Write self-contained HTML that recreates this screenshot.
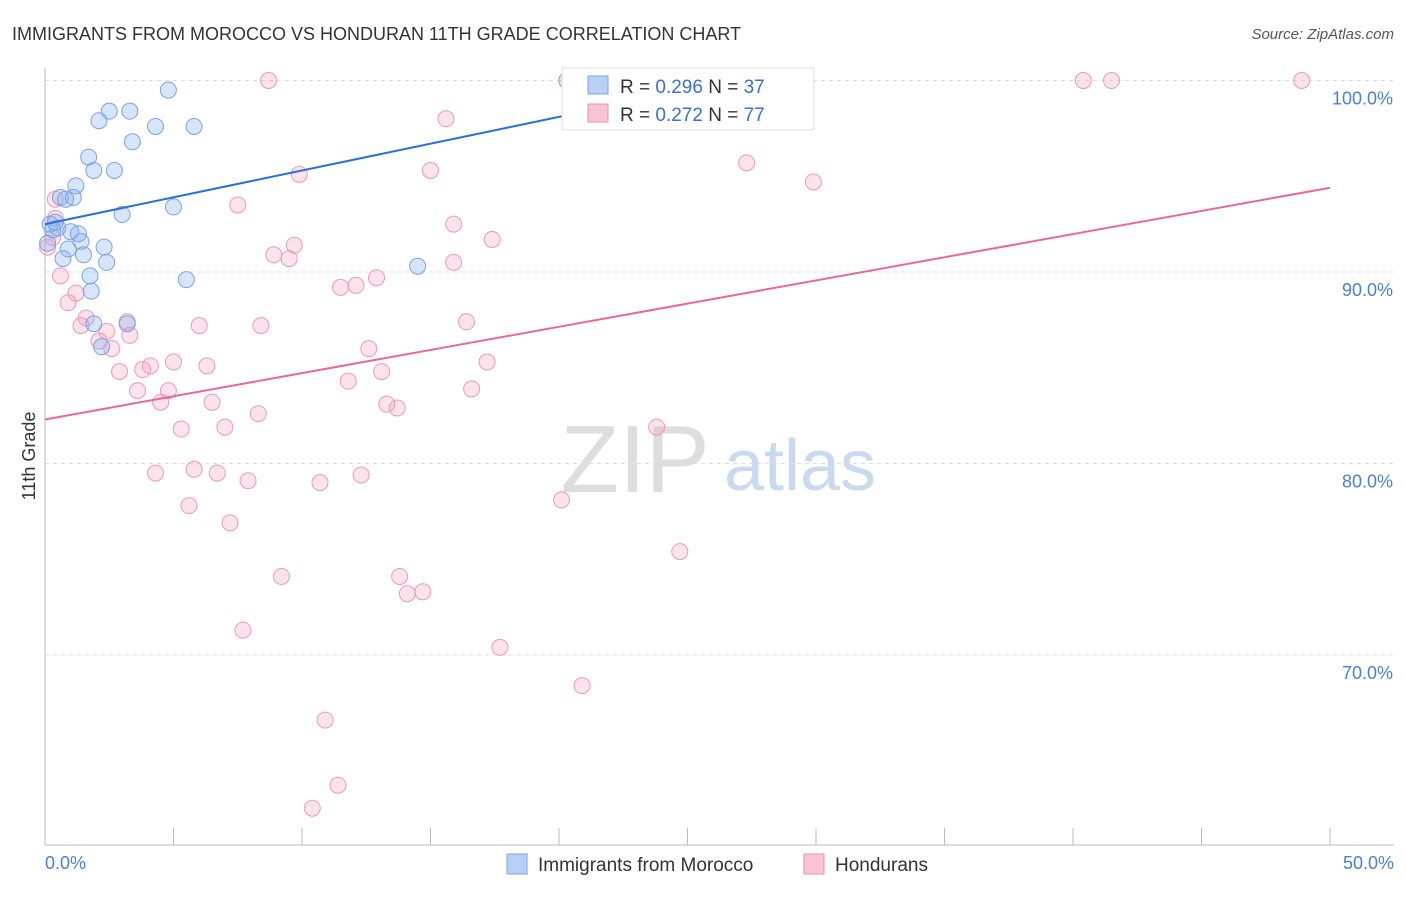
<!DOCTYPE html>
<html><head><meta charset="utf-8"><style>
body{margin:0;background:#fff;font-family:"Liberation Sans",sans-serif;}
svg text{font-family:"Liberation Sans",sans-serif;}
</style></head><body>
<svg width="1406" height="892" xmlns="http://www.w3.org/2000/svg">
<text x="12" y="40" font-size="18" fill="#333">IMMIGRANTS FROM MOROCCO VS HONDURAN 11TH GRADE CORRELATION CHART</text>
<text x="1394" y="39" font-size="15" fill="#555" font-style="italic" text-anchor="end">Source: ZipAtlas.com</text>
<g id="grid"></g>
<text x="635" y="492" font-size="96" fill="#ddd" font-family="Liberation Serif" text-anchor="middle">ZIP</text>
<text x="800" y="490" font-size="72" fill="#c9daf0" text-anchor="middle">atlas</text>
<line x1="45" y1="68" x2="45" y2="845" stroke="#bbb"/>
<line x1="45" y1="845" x2="1394" y2="845" stroke="#bbb"/>
<text x="35" y="456" font-size="18" fill="#333" transform="rotate(-90 35 456)" text-anchor="middle">11th Grade</text>
<text x="45" y="869" font-size="18" fill="#4a7fd4">0.0%</text>
<text x="1394" y="869" font-size="18" fill="#4a7fd4" text-anchor="end">50.0%</text>
<g id="ticks"></g>
<g id="pts"></g>
<g id="lines"></g>
<g>
<rect x="562" y="68" width="252" height="62" fill="#fff" stroke="#ddd"/>
<rect x="588" y="76" width="20" height="18" fill="#b8d0f4" stroke="#7aa3e0"/>
<rect x="588" y="104" width="20" height="18" fill="#f8c4d4" stroke="#eb8fae"/>
<text x="620" y="93" font-size="19" fill="#333">R = <tspan fill="#3a70cc">0.296</tspan>   N = <tspan fill="#3a70cc">37</tspan></text>
<text x="620" y="121" font-size="19" fill="#333">R = <tspan fill="#3a70cc">0.272</tspan>   N = <tspan fill="#3a70cc">77</tspan></text>
</g>
<g>
<rect x="507" y="854" width="20" height="20" fill="#b8d0f4" stroke="#7aa3e0"/>
<text x="538" y="871" font-size="19" fill="#333">Immigrants from Morocco</text>
<rect x="804" y="854" width="20" height="20" fill="#f8c4d4" stroke="#eb8fae"/>
<text x="835" y="871" font-size="19" fill="#333">Hondurans</text>
</g>
</svg>
<script>
const yTicks=[100,90,80,70];
const yTickLabels=["100.0%","90.0%","80.0%","70.0%"];
const xTicks=[0,5,10,15,20,25,30,35,40,45,50];
const blueX=[20.3,4.8,2.5,3.3,2.1,4.3,5.8,3.4,1.7,1.9,2.7,1.2,0.6,1.1,3.0,5.0,0.2,0.5,1.0,0.3,1.4,0.9,2.3,1.5,0.7,2.4,14.5,1.75,5.5,1.8,1.9,3.2,2.2,0.1,0.4,0.8,1.3];
const blueY=[100,99.5,98.4,98.4,97.9,97.6,97.6,96.8,96.0,95.3,95.3,94.5,93.9,93.9,93.0,93.4,92.5,92.3,92.1,92.2,91.6,91.2,91.3,90.9,90.7,90.5,90.3,89.8,89.6,89.0,87.3,87.3,86.1,91.5,92.6,93.8,92.0];
const pinkX=[8.7,28.1,40.4,41.5,48.9,15.6,27.3,15.0,9.9,29.9,7.5,0.4,15.9,17.4,9.7,8.9,9.5,15.9,12.9,11.5,12.1,0.6,1.2,0.9,16.4,3.2,6.0,8.4,1.6,1.4,2.4,3.3,2.1,2.6,12.6,4.1,5.0,6.3,17.2,2.9,3.8,13.1,11.8,16.6,3.6,4.8,4.5,6.5,13.3,13.7,8.3,5.3,7.0,23.8,4.3,5.8,6.7,12.3,7.9,10.7,5.6,20.1,7.2,24.7,9.2,13.8,14.1,14.7,7.7,17.7,20.9,10.9,11.4,10.4,0.1,0.4,0.3];
const pinkY=[100,100,100,100,100,98.0,95.7,95.3,95.1,94.7,93.5,93.8,92.5,91.7,91.4,90.9,90.7,90.5,89.7,89.2,89.3,89.8,88.9,88.4,87.4,87.4,87.2,87.2,87.6,87.2,86.9,86.7,86.4,86.0,86.0,85.1,85.3,85.1,85.3,84.8,84.9,84.8,84.3,83.9,83.8,83.8,83.2,83.2,83.1,82.9,82.6,81.8,81.9,81.9,79.5,79.7,79.5,79.4,79.1,79.0,77.8,78.1,76.9,75.4,74.1,74.1,73.2,73.3,71.3,70.4,68.4,66.6,63.2,62.0,91.3,92.8,91.8];
const blueLine=[[0,92.5],[25,99.5]];
const pinkLine=[[0,82.3],[50,94.4]];
const X=v=>45+v*25.7, Y=v=>80.5+(100-v)*19.15;
const NS="http://www.w3.org/2000/svg";
function mk(t,a,p){const e=document.createElementNS(NS,t);for(const k in a)e.setAttribute(k,a[k]);document.getElementById(p).appendChild(e);return e;}
yTicks.forEach((t,i)=>{
 const l=mk('line',{x1:45,x2:1394,y1:Y(t),y2:Y(t),stroke:'#ddd','stroke-dasharray':'4,4'},'grid');
 
 
 const tx=mk('text',{x:1393,y:Y(t)+24,'font-size':18,fill:'#4a7fd4','text-anchor':'end'},'grid');
 tx.textContent=yTickLabels[i];
 
 
});
xTicks.forEach(t=>{
 const l=mk('line',{x1:X(t),x2:X(t),y1:828,y2:845,stroke:'#bbb'},'ticks');
 
 
});
pinkX.forEach((x,i)=>{
 const c=mk('circle',{cx:X(x),cy:Y(pinkY[i]),r:8,fill:'rgba(244,160,190,0.3)',stroke:'#eb9ab5','stroke-width':1},'pts');
 
 
});
blueX.forEach((x,i)=>{
 const c=mk('circle',{cx:X(x),cy:Y(blueY[i]),r:8,fill:'rgba(140,180,240,0.35)',stroke:'#7aa3e0','stroke-width':1},'pts');
 
 
});
const bl=mk('line',{x1:X(blueLine[0][0]),y1:Y(blueLine[0][1]),x2:X(blueLine[1][0]),y2:Y(blueLine[1][1]),stroke:'#2a6fd6','stroke-width':2},'lines');


const pl=mk('line',{x1:X(pinkLine[0][0]),y1:Y(pinkLine[0][1]),x2:X(pinkLine[1][0]),y2:Y(pinkLine[1][1]),stroke:'#e8689a','stroke-width':2},'lines');


</script>
</body></html>
